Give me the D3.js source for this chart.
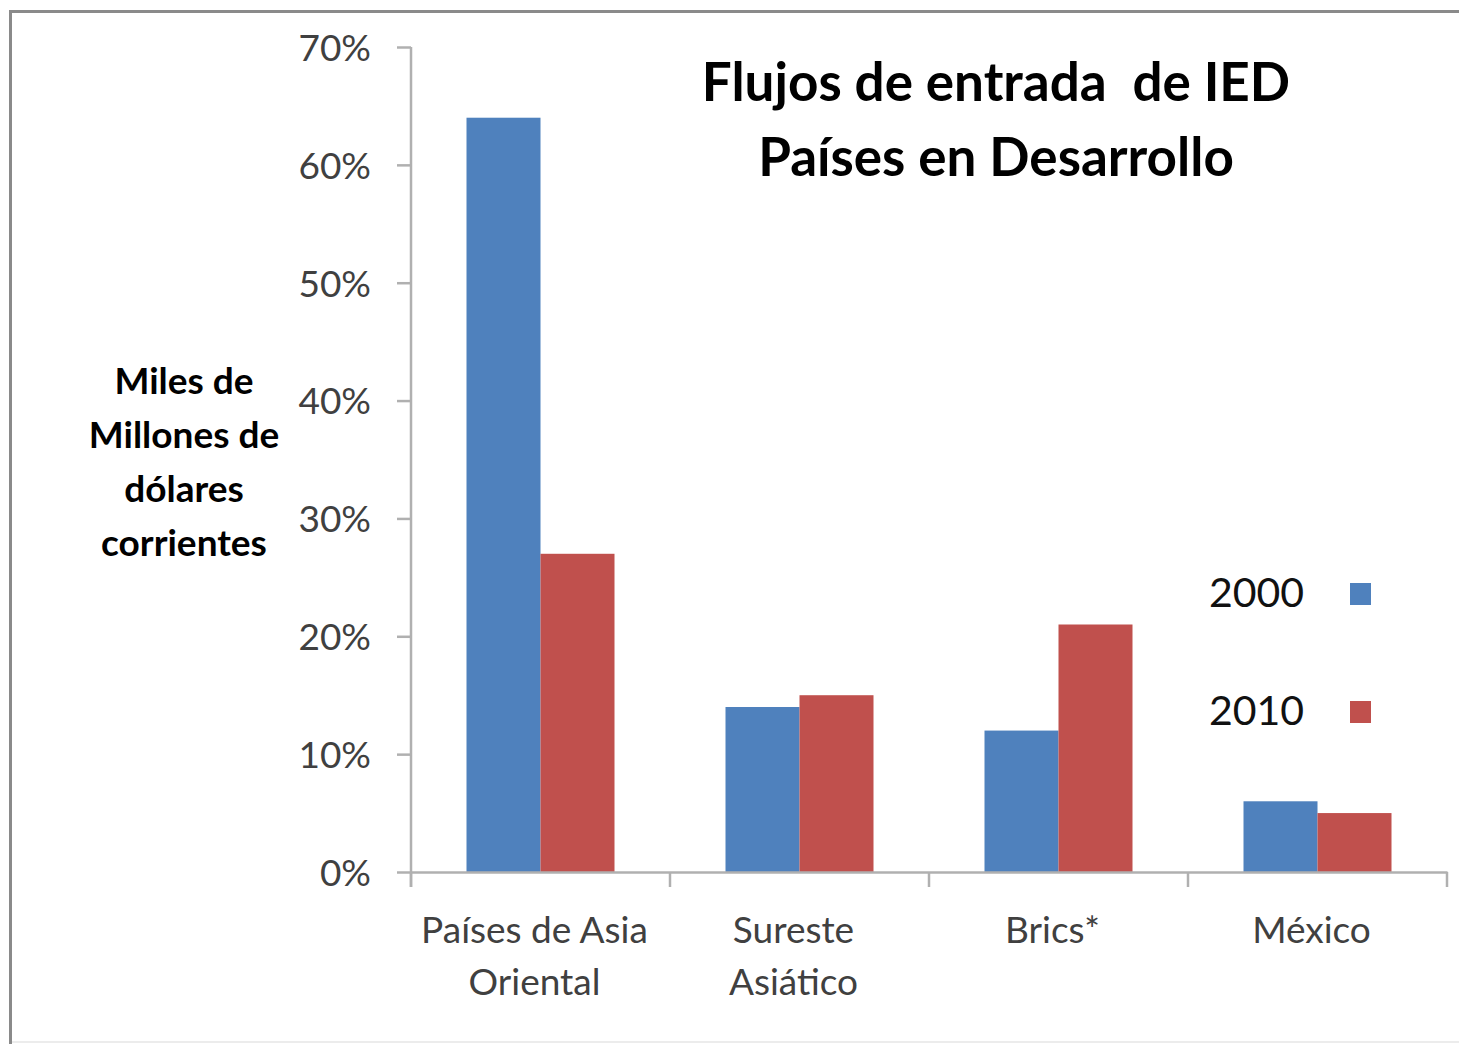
<!DOCTYPE html>
<html>
<head>
<meta charset="utf-8">
<script src="https://cdn.jsdelivr.net/npm/d3@7"></script>
<style>
  body { margin: 0; background: #fff; }
  text { font-family: Lato, "Open Sans", sans-serif; }
</style>
</head>
<body>
<div id="chart"></div>
<script>
// data
const categories = [["Países de Asia", "Oriental"], ["Sureste", "Asiático"], ["Brics*"], ["México"]]
const series = ["2000", "2010"]
const values2000 = [0.64, 0.14, 0.12, 0.06]
const values2010 = [0.27, 0.15, 0.21, 0.05]
const yTicks = [0, 0.1, 0.2, 0.3, 0.4, 0.5, 0.6, 0.7]
const titleLines = ["Flujos de entrada  de IED", "Países en Desarrollo"]
const yLabelLines = ["Miles de", "Millones de", "dólares", "corrientes"]

const COLORS = { "2000": "#4F81BD", "2010": "#C0504D" }
const W = 1459, H = 1044
const PLOT = { LEFT: 411, RIGHT: 1447, TOP: 47, BOTTOM: 872 }

const svg = d3.select("#chart").append("svg")
    .attr("width", W)
    .attr("height", H)

// outer frame: dark top/left, faint bottom
svg.append("line")
    .attr("x1", 10).attr("x2", W).attr("y1", 11.5).attr("y2", 11.5)
    .attr("stroke", "#8a8a8a").attr("stroke-width", 3)
svg.append("line")
    .attr("x1", 10.5).attr("x2", 10.5).attr("y1", 10).attr("y2", 1044)
    .attr("stroke", "#8a8a8a").attr("stroke-width", 3)
svg.append("line")
    .attr("x1", 12).attr("x2", W).attr("y1", 1042).attr("y2", 1042)
    .attr("stroke", "#ececec").attr("stroke-width", 2)

const rows = categories.map((c, i) => ({ key: c.join(" "), lines: c, "2000": values2000[i], "2010": values2010[i] }))

const x0 = d3.scaleBand()
    .domain(rows.map(d => d.key))
    .range([PLOT.LEFT, PLOT.RIGHT])

const x1 = d3.scaleBand()
    .domain(series)
    .range([0, x0.bandwidth()])
    .paddingOuter(0.75)

const y = d3.scaleLinear()
    .domain([0, 0.7])
    .range([PLOT.BOTTOM, PLOT.TOP])

// bars
svg.append("g").selectAll("g")
    .data(rows)
    .join("g")
        .attr("transform", d => `translate(${x0(d.key)},0)`)
    .selectAll("rect")
    .data(d => series.map(s => ({ s, v: d[s] })))
    .join("rect")
        .attr("x", d => x1(d.s))
        .attr("y", d => y(d.v))
        .attr("width", x1.bandwidth())
        .attr("height", d => y(0) - y(d.v))
        .attr("fill", d => COLORS[d.s])

// y axis
const yAxis = svg.append("g")
    .attr("transform", `translate(${PLOT.LEFT},0)`)
    .call(d3.axisLeft(y).tickValues(yTicks).tickFormat(d3.format(".0%")).tickSize(14).tickPadding(26))
yAxis.select(".domain").attr("stroke", "#b0b0b0").attr("stroke-width", 2.5)
    .attr("d", `M0,${PLOT.TOP}V${PLOT.BOTTOM + 15}`)
yAxis.selectAll(".tick line").attr("stroke", "#b0b0b0").attr("stroke-width", 2.5)
yAxis.selectAll(".tick text")
    .attr("font-family", "Lato, sans-serif")
    .attr("font-size", 37)
    .attr("fill", "#404040")
    .attr("dy", "0.36em")

// x axis
const xAxis = svg.append("g")
    .attr("transform", `translate(0,${PLOT.BOTTOM})`)
    .call(d3.axisBottom(x0).tickSize(0).tickPadding(0))
xAxis.select(".domain").attr("stroke", "#b0b0b0").attr("stroke-width", 2.5)
xAxis.selectAll(".tick text").remove()
xAxis.selectAll(".tick")
    .append("text")
    .attr("fill", "#404040")
    .attr("font-family", "Lato, sans-serif")
    .attr("font-size", 37)
    .attr("text-anchor", "middle")
    .selectAll("tspan")
    .data(k => rows.find(r => r.key === k).lines)
    .join("tspan")
        .attr("x", -6)
        .attr("y", (d, i) => 71 + i * 52)
        .text(d => d)

// boundary ticks between categories
const bounds = x0.domain().map(k => x0(k)).concat([PLOT.RIGHT])
xAxis.selectAll(".bound")
    .data(bounds)
    .join("line")
        .attr("class", "bound")
        .attr("x1", d => d).attr("x2", d => d)
        .attr("y1", 0).attr("y2", 15)
        .attr("stroke", "#b0b0b0")
        .attr("stroke-width", 2.5)

// title
svg.append("text")
    .attr("text-anchor", "middle")
    .attr("font-weight", "bold")
    .attr("font-size", 53)
    .attr("fill", "#000")
    .style("white-space", "pre")
    .selectAll("tspan")
    .data(titleLines)
    .join("tspan")
        .attr("x", 996)
        .attr("y", (d, i) => 101 + i * 75)
        .text(d => d)

// y label
svg.append("text")
    .attr("text-anchor", "middle")
    .attr("font-weight", "bold")
    .attr("font-size", 37)
    .attr("fill", "#000")
    .selectAll("tspan")
    .data(yLabelLines)
    .join("tspan")
        .attr("x", 184)
        .attr("y", (d, i) => 394 + i * 54)
        .text(d => d)

// legend
const legend = svg.append("g").selectAll("g")
    .data(series)
    .join("g")
        .attr("transform", (d, i) => `translate(0,${i * 118})`)
legend.append("text")
    .attr("x", 1209)
    .attr("y", 607)
    .attr("font-size", 41)
    .attr("fill", "#111")
    .text(d => d)
legend.append("rect")
    .attr("x", 1350)
    .attr("y", 583)
    .attr("width", 21)
    .attr("height", 22)
    .attr("fill", d => COLORS[d])
</script>
</body>
</html>
